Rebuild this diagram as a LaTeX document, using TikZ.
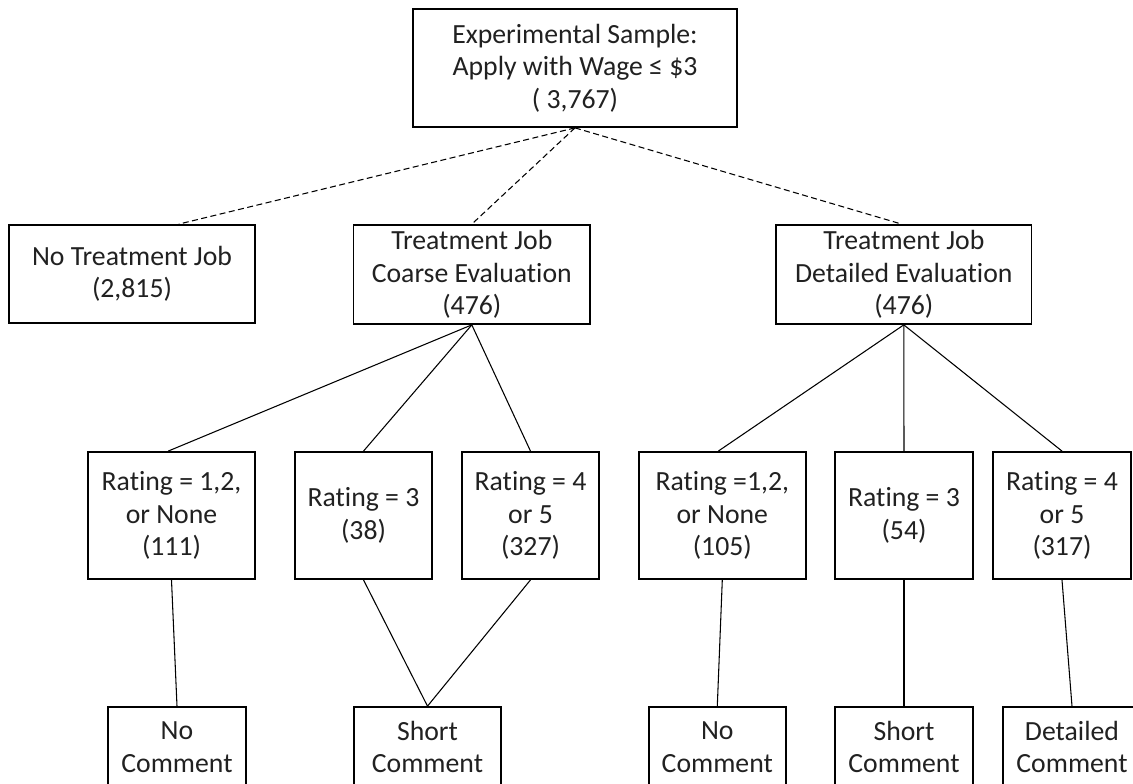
\documentclass[tikz,border=0pt]{standalone}
\usepackage{fontspec}
\setmainfont[Ligatures=NoCommon]{Carlito}
\begin{document}
\begin{tikzpicture}[x=0.75pt,y=-0.75pt,
  box/.style={draw=black, line width=1.3pt, rectangle, align=center, inner sep=0pt,
    text=black!87, font=\fontsize{20.8}{24.4}\selectfont},
  link/.style={draw=black, line width=0.8pt},
  dlink/.style={draw=black, line width=0.8pt, dash pattern=on 4.5pt off 2.6pt}]
\useasboundingbox (0,0) rectangle (1133,783);
\clip (0,0) rectangle (1133,783);
\fill[white] (0,0) rectangle (1133,783);
% level 0
\node[box, minimum width=243pt, minimum height=88.5pt] (top) at (575,68)
  {Experimental Sample:\\Apply with Wage \symbol{"2264} \$3\\( 3,767)};
% level 1
\node[box, minimum width=184.5pt, minimum height=73.5pt] (noT) at (132,274)
  {No Treatment Job\\(2,815)};
\node[box, minimum width=177.3pt, minimum height=74.25pt] (coarse) at (471.8,274.5)
  {Treatment Job\\Coarse Evaluation\\(476)};
\node[box, minimum width=191.6pt, minimum height=74.25pt] (detail) at (903.8,274.5)
  {Treatment Job\\Detailed Evaluation\\(476)};
% level 2
\node[box, minimum width=125.3pt, minimum height=95.3pt] (r1) at (171.5,515.5)
  {Rating = 1,2,\\or None\\(111)};
\node[box, minimum width=102.8pt, minimum height=95.3pt] (r2) at (363.5,515.5)
  {Rating = 3\\(38)};
\node[box, minimum width=102.8pt, minimum height=95.3pt] (r3) at (530.5,515.5)
  {Rating = 4\\or 5\\(327)};
\node[box, minimum width=125.5pt, minimum height=95.3pt] (r4) at (722.3,515.5)
  {Rating =1,2,\\or None\\(105)};
\node[box, minimum width=103.5pt, minimum height=95.3pt] (r5) at (904,515.5)
  {Rating = 3\\(54)};
\node[box, minimum width=103.5pt, minimum height=95.3pt] (r6) at (1062,515.5)
  {Rating = 4\\or 5\\(317)};
% level 3
\node[box, minimum width=103.5pt, minimum height=60pt] (c1) at (177,747)
  {No\\Comment};
\node[box, minimum width=110.3pt, minimum height=60pt] (c2) at (427.5,747)
  {Short\\Comment};
\node[box, minimum width=103pt, minimum height=60pt] (c3) at (717.3,747)
  {No\\Comment};
\node[box, minimum width=103.5pt, minimum height=60pt] (c4) at (904,747)
  {Short\\Comment};
\node[box, minimum width=103.5pt, minimum height=60pt] (c5) at (1072,747)
  {Detailed\\Comment};
% dashed connectors
\draw[dlink] (top.south) -- ([xshift=35pt]noT.north);
\draw[dlink] (top.south) -- (coarse.north);
\draw[dlink] (top.south) -- ([xshift=-1.5pt]detail.north);
% solid connectors
\draw[link] (coarse.south) -- ([xshift=-2.5pt]r1.north);
\draw[link] (coarse.south) -- (r2.north);
\draw[link] (coarse.south) -- (r3.north);
\draw[link] (detail.south) -- ([xshift=-3pt]r4.north);
\draw[link] (detail.south) -- (r5.north);
\draw[link] (detail.south) -- (r6.north);
\draw[link] (r1.south) -- (c1.north);
\draw[link] (r2.south) -- (c2.north);
\draw[link] (r3.south) -- (c2.north);
\draw[link] (r4.south) -- (c3.north);
\draw[link] (r5.south) -- (c4.north);
\draw[link] (r6.south) -- (c5.north);
\end{tikzpicture}
\end{document}
